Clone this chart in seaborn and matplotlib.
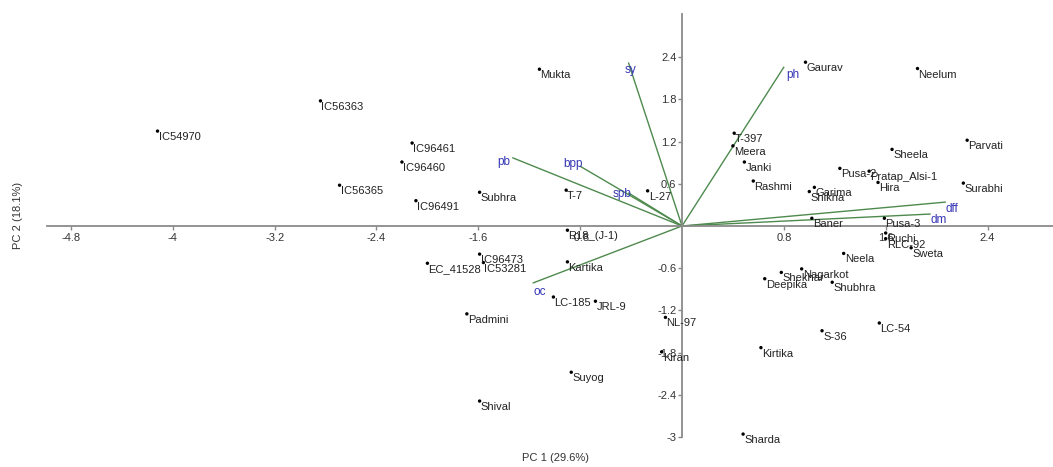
import matplotlib
matplotlib.use("Agg")
import matplotlib.pyplot as plt
import seaborn as sns
import pandas as pd

# ---------------- data ----------------
genotypes = ["IC54970", "IC56363", "IC56365", "IC96461", "IC96460", "IC96491",
             "Subhra", "Mukta", "T-7", "L-27", "R18_(J-1)", "IC96473", "EC_41528",
             "IC53281", "Kartika", "LC-185", "JRL-9", "Padmini", "NL-97", "Kiran",
             "Suyog", "Shival", "Gaurav", "Neelum", "T-397", "Meera", "Janki",
             "Rashmi", "Shikha", "Garima", "Pusa-2", "Pratap_Alsi-1", "Hira",
             "Sheela", "Parvati", "Surabhi", "Baner", "Pusa-3", "Ruchi", "RLC-92",
             "Sweta", "Neela", "Nagarkot", "Shekhar", "Deepika", "Shubhra", "S-36",
             "LC-54", "Kirtika", "Sharda"]
pc1 = [-4.12, -2.84, -2.69, -2.12, -2.20, -2.09,
       -1.59, -1.12, -0.91, -0.27, -0.90, -1.59, -2.00,
       -1.56, -0.90, -1.01, -0.68, -1.69, -0.13, -0.16,
       -0.87, -1.59, 0.97, 1.85, 0.41, 0.40, 0.49,
       0.56, 1.00, 1.04, 1.24, 1.47, 1.54,
       1.65, 2.24, 2.21, 1.02, 1.59, 1.60, 1.60,
       1.80, 1.27, 0.94, 0.78, 0.65, 1.18, 1.10,
       1.55, 0.62, 0.48]
pc2 = [1.35, 1.78, 0.58, 1.18, 0.91, 0.36,
       0.48, 2.23, 0.51, 0.50, -0.06, -0.40, -0.53,
       -0.52, -0.51, -1.01, -1.07, -1.25, -1.30, -1.79,
       -2.08, -2.49, 2.33, 2.24, 1.32, 1.14, 0.91,
       0.64, 0.49, 0.55, 0.82, 0.78, 0.62,
       1.09, 1.22, 0.61, 0.11, 0.11, -0.10, -0.18,
       -0.31, -0.39, -0.61, -0.66, -0.75, -0.80, -1.49,
       -1.38, -1.73, -2.96]

variables = ["sy", "ph", "pb", "bpp", "spb", "dff", "dm", "oc"]
load1 = [-0.42, 0.80, -1.33, -0.80, -0.42, 2.07, 1.95, -1.17]
load2 = [2.32, 2.26, 0.97, 0.85, 0.47, 0.34, 0.17, -0.81]

xticks = [-4.8, -4, -3.2, -2.4, -1.6, -0.8, 0.8, 1.6, 2.4]
xticklabels = ["-4.8", "-4", "-3.2", "-2.4", "-1.6", "-0.8", "0.8", "1.6", "2.4"]
yticks = [-3, -2.4, -1.8, -1.2, -0.6, 0.6, 1.2, 1.8, 2.4]
yticklabels = ["-3", "-2.4", "-1.8", "-1.2", "-0.6", "0.6", "1.2", "1.8", "2.4"]
xlabel = "PC 1 (29.6%)"
ylabel = "PC 2 (18.1%)"

# label placement for variable names: (ha, dx px, dy px)
var_label_style = {"sy": ("left", -4, -1), "ph": ("left", 2, -2), "pb": ("right", -2, 2),
                   "bpp": ("left", -17, 8), "spb": ("left", -16, 5), "dff": ("left", 0, -1),
                   "dm": ("left", 0, 0), "oc": ("left", 0, -3)}

# ---------------- style ----------------
sns.set_theme(style="white")
plt.rcParams["font.family"] = ["Liberation Sans", "DejaVu Sans"]

W, H = 1053, 467
fig = plt.figure(figsize=(W / 100, H / 100), dpi=100)
ax = fig.add_axes([0, 0, 1, 1])
ax.set_facecolor("white")

axis_col = "#8a8a8a"
vec_col = "#4e8a4e"
lab_col = "#222222"
var_col = "#3535b5"

df = pd.DataFrame({"name": genotypes, "pc1": pc1, "pc2": pc2})
sns.scatterplot(data=df, x="pc1", y="pc2", ax=ax, color="black", s=6,
                edgecolor="none", linewidth=0, zorder=3, legend=False)
for n, x, y in zip(df["name"], df["pc1"], df["pc2"]):
    ax.annotate(n, (x, y), xytext=(1, -1), textcoords="offset pixels",
                ha="left", va="top", fontsize=8, color=lab_col, zorder=4)

for v, lx, ly in zip(variables, load1, load2):
    ax.plot([0, lx], [0, ly], color=vec_col, lw=1.0, zorder=2)
    ha, dx, dy = var_label_style[v]
    ax.annotate(v, (lx, ly), xytext=(dx, dy), textcoords="offset pixels",
                ha=ha, va="top", fontsize=8.5, color=var_col, zorder=4)

# pixel mapping: origin at (682,226), 127.3 px / unit in x, 70.3 px / unit in y
x0, y0, sx, sy_ = 682, 226, 127.3, 70.3
ax.set_xlim(-x0 / sx, (W - x0) / sx)
ax.set_ylim(-(H - y0) / sy_, y0 / sy_)

for s in ["top", "right"]:
    ax.spines[s].set_visible(False)
ax.spines["left"].set_position(("data", 0))
ax.spines["bottom"].set_position(("data", 0))
ax.spines["left"].set_bounds(-3.0, (y0 - 14) / sy_)
ax.spines["bottom"].set_bounds((47 - x0) / sx, (W - x0) / sx)
for s in ["left", "bottom"]:
    ax.spines[s].set_color(axis_col)
    ax.spines[s].set_linewidth(1.3)

ax.set_xticks(xticks)
ax.set_xticklabels(xticklabels)
ax.set_yticks(yticks)
ax.set_yticklabels(yticklabels)
ax.tick_params(axis="x", bottom=True, direction="out", length=3, width=1,
               color=axis_col, labelsize=8, labelcolor="#333333", pad=2)
ax.tick_params(axis="y", left=True, direction="out", length=3, width=1,
               color=axis_col, labelsize=8, labelcolor="#333333", pad=1)
ax.set_xlabel("")
ax.set_ylabel("")
ax.grid(False)

fig.text(555 / W, 1 - 458 / H, xlabel, ha="center", va="center", fontsize=8, color="#333333")
fig.text(18 / W, 1 - 215 / H, ylabel, ha="center", va="center", rotation=90,
         fontsize=8, color="#333333")

fig.savefig("out.png", dpi=100)
